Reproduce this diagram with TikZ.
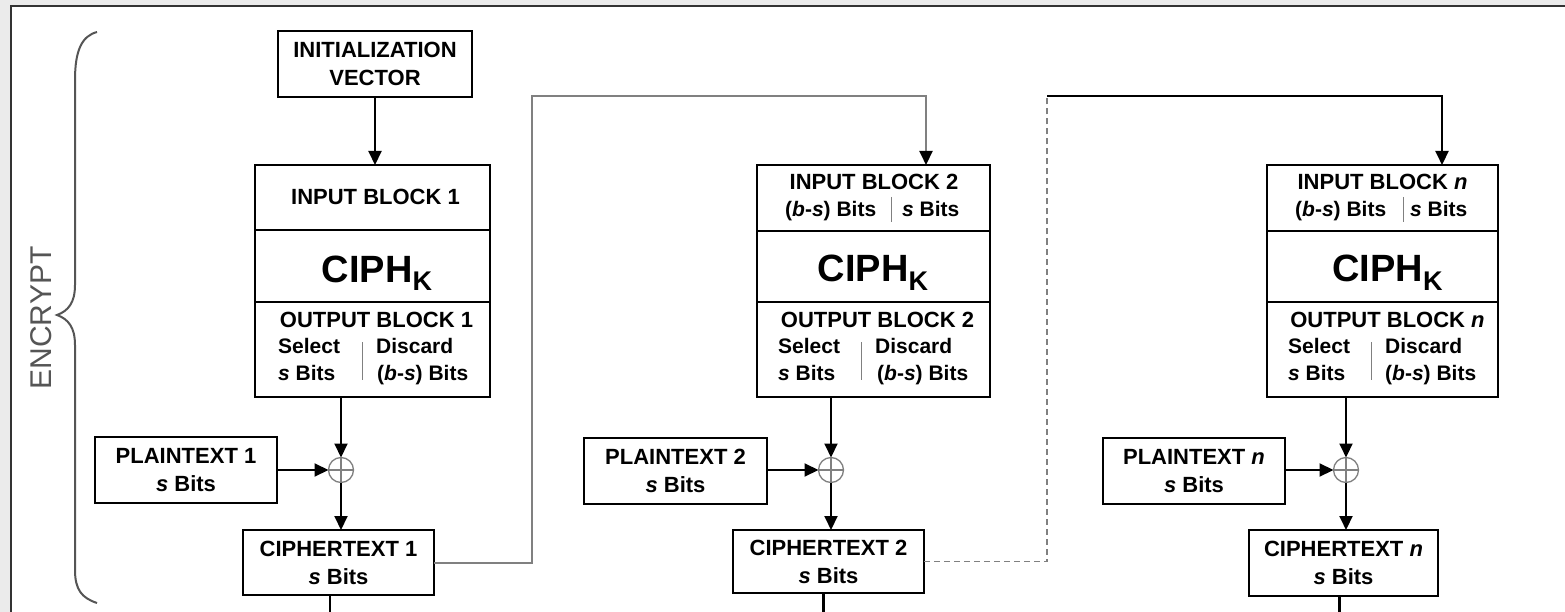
\documentclass[tikz,border=0pt]{standalone}
\usepackage{fontspec}
\setmainfont{Liberation Sans}
\usetikzlibrary{arrows.meta}
\definecolor{bggray}{HTML}{EBEBEB}
\definecolor{framec}{HTML}{333333}
\definecolor{fbgray}{HTML}{808080}
\definecolor{bracec}{HTML}{555555}
\begin{document}
\begin{tikzpicture}[x=1pt,y=-1pt,
  box/.style={draw=black, line width=2.2pt, inner sep=0pt, outer sep=0pt, fill=white},
  btxt/.style={align=center, font=\bfseries\fontsize{22}{28}\selectfont},
  tx/.style={anchor=base, inner sep=0pt, font=\bfseries\fontsize{22}{24}\selectfont},
  txl/.style={anchor=base west, inner sep=0pt, font=\bfseries\fontsize{21}{24}\selectfont},
  ciph/.style={anchor=base, inner sep=0pt, font=\bfseries\fontsize{38}{40}\selectfont},
  sepl/.style={draw=gray, line width=1pt},
  arr/.style={draw=black, line width=2pt, -{Triangle[length=14pt,width=13pt,color=black]}},
  fb/.style={draw=fbgray, line width=2pt, -{Triangle[length=14pt,width=13pt,color=black]}},
  dsh/.style={draw=fbgray, line width=1.5pt, dash pattern=on 6pt off 4pt},
  xor/.style={circle, draw=gray, line width=1.3pt, minimum size=25pt, inner sep=0pt, outer sep=0pt, fill=white,
    path picture={\draw[gray, line width=1.2pt] (path picture bounding box.north) -- (path picture bounding box.south)
      (path picture bounding box.west) -- (path picture bounding box.east);}},
  down/.style={draw=black, line width=3pt},
]
\useasboundingbox (0,0) rectangle (1565,612);
\fill[bggray] (0,0) rectangle (1565,612);
\fill[white] (11,6) rectangle (1565,612);
\draw[framec, line width=2pt] (11,612) -- (11,6) -- (1565,6);

% ENCRYPT brace and label
\draw[bracec, line width=2pt] (97,32) .. controls (82,36) and (75,50) .. (75,80) -- (75,285)
  .. controls (75,303) and (68,311) .. (57,315) .. controls (68,319) and (75,327) .. (75,345)
  -- (75,570) .. controls (75,590) and (82,598) .. (97,603);
\node[rotate=90, inner sep=0pt, text=bracec, font=\fontsize{30}{30}\selectfont] (enc) at (41,318) {ENCRYPT};

% Initialization vector
\node[box, btxt, minimum width=194pt, minimum height=66pt] (iv) at (375,64) {INITIALIZATION\\VECTOR};

% ---------- Block 1 ----------
\node[box, minimum width=235pt, minimum height=65pt] (in1) at (372.5,197.5) {};
\node[box, minimum width=235pt, minimum height=72pt] (cp1) at (372.5,266) {};
\node[box, minimum width=235pt, minimum height=95pt] (out1) at (372.5,349.5) {};
\node[tx] (in1t) at (375.5,205) {INPUT BLOCK 1};
\node[ciph] (cp1t) at (377,282) {CIPH\raisebox{-9pt}{\fontsize{27}{27}\selectfont K}};
\node[tx] (out1t) at (376.5,327) {OUTPUT BLOCK 1};
\node[txl] (o1a) at (278,353) {Select};
\node[txl] (o1b) at (278,380) {\textit{s} Bits};
\node[txl] (o1c) at (376,353) {Discard};
\node[txl] (o1d) at (377,380) {(\textit{b}-\textit{s}) Bits};
\draw[sepl] (362,342) -- (362,380);

\node[xor] (x1) at (341,470) {};
\node[box, btxt, minimum width=182pt, minimum height=66pt] (pt1) at (186,470) {PLAINTEXT 1\\\textit{s} Bits};
\node[box, btxt, minimum width=191pt, minimum height=65pt] (ct1) at (338.5,562.5) {CIPHERTEXT 1\\\textit{s} Bits};

% ---------- Block 2 ----------
\node[box, minimum width=233pt, minimum height=66pt] (in2) at (873.5,198) {};
\node[box, minimum width=233pt, minimum height=71pt] (cp2) at (873.5,266.5) {};
\node[box, minimum width=233pt, minimum height=95pt] (out2) at (873.5,349.5) {};
\node[tx] (in2t) at (874,190) {INPUT BLOCK 2};
\node[txl] (i2a) at (785,217) {(\textit{b}-\textit{s}) Bits};
\node[txl] (i2b) at (902,217) {\textit{s} Bits};
\draw[sepl] (891,197) -- (891,222);
\node[ciph] (cp2t) at (873,281) {CIPH\raisebox{-9pt}{\fontsize{27}{27}\selectfont K}};
\node[tx] (out2t) at (877.5,327) {OUTPUT BLOCK 2};
\node[txl] (o2a) at (778,353) {Select};
\node[txl] (o2b) at (778,380) {\textit{s} Bits};
\node[txl] (o2c) at (875,353) {Discard};
\node[txl] (o2d) at (877,380) {(\textit{b}-\textit{s}) Bits};
\draw[sepl] (861,342) -- (861,380);

\node[xor] (x2) at (831,470) {};
\node[box, btxt, minimum width=183pt, minimum height=66pt] (pt2) at (675.5,471) {PLAINTEXT 2\\\textit{s} Bits};
\node[box, btxt, minimum width=191pt, minimum height=63pt] (ct2) at (828.5,561.5) {CIPHERTEXT 2\\\textit{s} Bits};

% ---------- Block n ----------
\node[box, minimum width=231pt, minimum height=66pt] (inn) at (1382.5,198) {};
\node[box, minimum width=231pt, minimum height=71pt] (cpn) at (1382.5,266.5) {};
\node[box, minimum width=231pt, minimum height=95pt] (outn) at (1382.5,349.5) {};
\node[tx] (innt) at (1382.5,190) {INPUT BLOCK \textit{n}};
\node[txl] (ina) at (1295,217) {(\textit{b}-\textit{s}) Bits};
\node[txl] (inb) at (1410,217) {\textit{s} Bits};
\draw[sepl] (1403,197) -- (1403,222);
\node[ciph] (cpnt) at (1387.5,281) {CIPH\raisebox{-9pt}{\fontsize{27}{27}\selectfont K}};
\node[tx] (outnt) at (1387.5,327) {OUTPUT BLOCK \textit{n}};
\node[txl] (ona) at (1288,353) {Select};
\node[txl] (onb) at (1288,380) {\textit{s} Bits};
\node[txl] (onc) at (1385,353) {Discard};
\node[txl] (ond) at (1385,380) {(\textit{b}-\textit{s}) Bits};
\draw[sepl] (1371,342) -- (1371,380);

\node[xor] (xn) at (1346,470) {};
\node[box, btxt, minimum width=182pt, minimum height=66pt] (ptn) at (1194,471) {PLAINTEXT \textit{n}\\\textit{s} Bits};
\node[box, btxt, minimum width=189pt, minimum height=66pt] (ctn) at (1343.5,563) {CIPHERTEXT \textit{n}\\\textit{s} Bits};

% ---------- connectors ----------
\draw[arr] (iv.south) -- (iv.south |- in1.north);
\draw[arr] (x1 |- out1.south) -- (x1.north);
\draw[arr] (pt1.east |- x1) -- (x1.west);
\draw[arr] (x1.south) -- (x1 |- ct1.north);

\draw[arr] (x2 |- out2.south) -- (x2.north);
\draw[arr] (pt2.east |- x2) -- (x2.west);
\draw[arr] (x2.south) -- (x2 |- ct2.north);

\draw[arr] (xn |- outn.south) -- (xn.north);
\draw[arr] (ptn.east |- xn) -- (xn.west);
\draw[arr] (xn.south) -- (xn |- ctn.north);

% feedback 1
\coordinate (k1) at (532,96);
\coordinate (k2) at (926,96);
\draw[fb] (ct1.east) -| (k1) -- (k2) -- (k2 |- in2.north);

% feedback 2
\coordinate (d1) at (1047,96);
\coordinate (k3) at (1442,96);
\draw[dsh] (ct2.east) -| (d1);
\draw[arr] (d1) -- (k3) -- (k3 |- inn.north);

% outputs going down
\coordinate (e1) at (330,612);
\coordinate (e2) at (823,612);
\coordinate (e3) at (1339,612);
\draw[draw=black, line width=2pt] (e1 |- ct1.south) -- (e1);
\draw[down] (e2 |- ct2.south) -- (e2);
\draw[down] (e3 |- ctn.south) -- (e3);
\end{tikzpicture}
\end{document}
